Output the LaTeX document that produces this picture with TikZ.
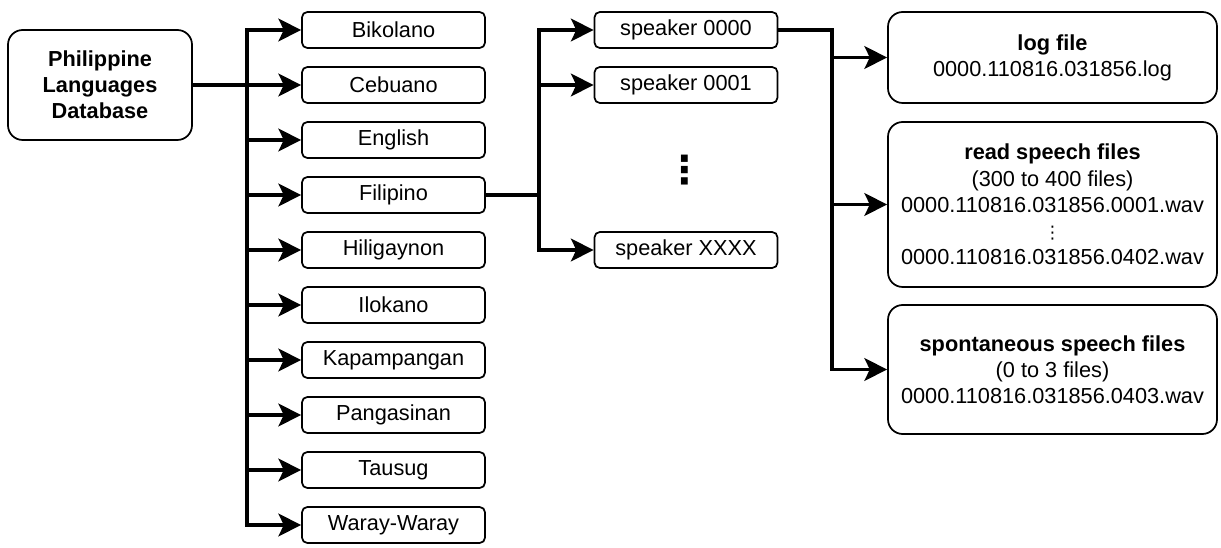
\documentclass[tikz,border=0pt]{standalone}
\usepackage{fontspec}
\setmainfont{Liberation Sans}
\newfontfamily\dotsfont{DejaVu Sans}
\usetikzlibrary{arrows.meta,positioning}

\tikzset{
	box/.style={draw, line width=1.3pt, rounded corners=4pt, minimum width=137.25pt, minimum height=27pt, inner sep=0pt, font=\fontsize{16.3}{19.6}\selectfont},
	bigbox/.style={box, rounded corners=11pt, align=center},
	arr/.style={line width=2.6pt, -{Stealth[length=17pt, width=17pt, inset=4pt]}},
}

\begin{document}
\begin{tikzpicture}[x=0.75pt, y=-0.75pt]
		\useasboundingbox (0,0) rectangle (1221,548);
		% database and languages
		\node[bigbox, minimum width=138pt, minimum height=82.5pt] (root) at (100,85) {\bfseries Philippine\\\bfseries Languages\\\bfseries Database};
		\foreach \name [count=\i from 0] in {Bikolano, Cebuano, English, Filipino, Hiligaynon, Ilokano, Kapampangan, Pangasinan, Tausug, Waray-Waray}
			\node[box] (lang\i) at (393.5, 30+55*\i) {\name};
		\coordinate (lsplit) at (247,85);
		\foreach \i in {0,...,9}
			\draw[arr] (root.east) -- (lsplit) |- (lang\i.west);
		% speakers
		\node[box] (spk0) at (686,30) {speaker 0000};
		\node[box] (spk1) at (686,85) {speaker 0001};
		\node[box] (spkx) at (686,250) {speaker XXXX};
		\node[font=\dotsfont\bfseries\fontsize{29}{30}\selectfont, inner sep=0pt] (spkdots) at (685,170) {⋮};
		\coordinate (ssplit) at (539,195);
		\foreach \s in {spk0, spk1, spkx}
			\draw[arr] (lang3.east) -- (ssplit) |- (\s.west);
		% files of one speaker
		\node[bigbox, minimum width=246.75pt, minimum height=68.25pt] (log) at (1052.5,57.5) {\textbf{log file}\\0000.110816.031856.log};
		\node[bigbox, minimum width=246.75pt, minimum height=123.75pt] (read) at (1052.5,204.5) {\textbf{read speech files}\\(300 to 400 files)\\0000.110816.031856.0001.wav\\{\dotsfont\fontsize{13}{12}\selectfont ⋮}\\0000.110816.031856.0402.wav};
		\node[bigbox, minimum width=246.75pt, minimum height=96.75pt] (spont) at (1052.5,369.5) {\textbf{spontaneous speech files}\\(0 to 3 files)\\0000.110816.031856.0403.wav};
		\coordinate (fsplit) at (832,30);
		\foreach \f in {log, read, spont}
			\draw[arr] (spk0.east) -- (fsplit) |- (\f.west);
	\end{tikzpicture}
\end{document}
